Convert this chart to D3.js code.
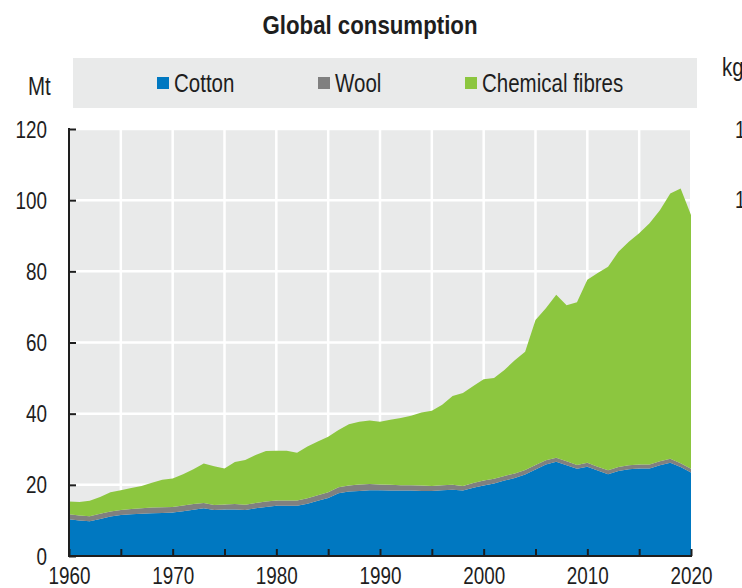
<!DOCTYPE html>
<html>
<head>
<meta charset="utf-8">
<script src="https://cdn.jsdelivr.net/npm/d3@7"></script>
<style>
  html, body { margin: 0; padding: 0; background: #ffffff; }
  svg { display: block; }
  text { font-family: "Liberation Sans", Arial, sans-serif; fill: #1e1e1e; }
</style>
</head>
<body>
<svg id="chart" width="742" height="588"></svg>
<script>
// ---------------- DATA ----------------
const years = [1960,1961,1962,1963,1964,1965,1966,1967,1968,1969,
               1970,1971,1972,1973,1974,1975,1976,1977,1978,1979,
               1980,1981,1982,1983,1984,1985,1986,1987,1988,1989,
               1990,1991,1992,1993,1994,1995,1996,1997,1998,1999,
               2000,2001,2002,2003,2004,2005,2006,2007,2008,2009,
               2010,2011,2012,2013,2014,2015,2016,2017,2018,2019,2020];

const cotton = [10.3,10.0,9.8,10.4,11.1,11.5,11.7,11.9,12.0,12.1,
                12.2,12.6,13.0,13.4,12.9,13.1,13.1,12.9,13.4,13.8,
                14.1,14.1,14.1,14.7,15.5,16.3,17.6,18.1,18.3,18.5,
                18.5,18.4,18.4,18.4,18.3,18.3,18.5,18.6,18.4,19.2,
                19.8,20.4,21.2,21.9,22.9,24.3,25.7,26.5,25.5,24.5,
                25.1,24.0,23.0,23.9,24.4,24.6,24.6,25.5,26.2,25.0,23.5];

const wool = [1.4,1.4,1.4,1.5,1.4,1.4,1.5,1.5,1.6,1.6,
              1.6,1.6,1.6,1.5,1.4,1.4,1.5,1.5,1.5,1.5,
              1.5,1.5,1.5,1.5,1.6,1.6,1.7,1.7,1.8,1.7,
              1.6,1.6,1.5,1.5,1.5,1.4,1.4,1.4,1.3,1.3,
              1.4,1.3,1.3,1.3,1.3,1.3,1.2,1.1,1.1,1.1,
              1.1,1.1,1.1,1.1,1.1,1.1,1.1,1.1,1.1,1.1,1.0];

const chemicalFibres = [3.6,3.8,4.3,4.7,5.4,5.6,5.9,6.3,7.0,7.7,
                        8.0,8.8,9.8,11.1,10.9,10.1,11.8,12.6,13.5,14.2,
                        14.0,14.0,13.4,14.6,15.1,15.6,16.1,17.2,17.6,17.9,
                        17.6,18.3,18.9,19.5,20.5,21.1,22.6,25.0,26.1,27.3,
                        28.5,28.3,29.8,31.8,33.2,40.7,42.7,45.8,43.9,45.7,
                        51.4,54.4,57.2,60.5,62.8,65.0,67.8,70.6,74.6,77.2,71.3];

const seriesNames = ["Cotton", "Wool", "Chemical fibres"];
const yTicks = [0, 20, 40, 60, 80, 100, 120];
const xMinorTicks = [1960,1965,1970,1975,1980,1985,1990,1995,2000,2005,2010,2015,2020];
const xTickLabels = [1960,1970,1980,1990,2000,2010,2020];
const titleText = "Global consumption";
const yUnit = "Mt";
const rightUnit = "kg";
const rightTickLabels = ["1", "1"];

// ---------------- LAYOUT ----------------
const svg = d3.select("#chart");
const colors = { "Cotton": "#0078c1", "Wool": "#808080", "Chemical fibres": "#8cc63f" };
const bg = "#e9eaea";
const NARROW = 0.82;

const plot = { left: 69, right: 691, top: 129, bottom: 556 };

const x = d3.scaleLinear().domain([1960, 2020]).range([plot.left, plot.right]);
const y = d3.scaleLinear().domain([0, 120]).range([plot.bottom, plot.top]);

const table = years.map((yr, i) => ({
  year: yr, "Cotton": cotton[i], "Wool": wool[i], "Chemical fibres": chemicalFibres[i]
}));

function ntext(g, str, tx, ty, size, anchor, sx, weight) {
  return g.append("text")
    .attr("transform", `translate(${tx},${ty}) scale(${sx},1)`)
    .attr("text-anchor", anchor)
    .attr("font-size", size)
    .attr("font-weight", weight || "normal")
    .text(str);
}

// Title
ntext(svg, titleText, 370, 34, 25, "middle", 0.89, "bold");

// Legend box
svg.append("rect").attr("x", 73).attr("y", 58).attr("width", 624).attr("height", 50).attr("fill", bg);
const legendPos = [{ sq: 157, tx: 174 }, { sq: 318, tx: 335 }, { sq: 465, tx: 482 }];
seriesNames.forEach((name, i) => {
  svg.append("rect").attr("x", legendPos[i].sq).attr("y", 77).attr("width", 12).attr("height", 12)
    .attr("fill", colors[name]);
  ntext(svg, name, legendPos[i].tx, 92, 25, "start", NARROW);
});

// Units
ntext(svg, yUnit, 28, 95, 25, "start", NARROW);
ntext(svg, rightUnit, 722, 76, 25, "start", NARROW);
ntext(svg, rightTickLabels[0], 735, 138, 23, "start", NARROW);
ntext(svg, rightTickLabels[1], 735, 208, 23, "start", NARROW);

// Plot background
svg.append("rect").attr("x", plot.left).attr("y", plot.top)
  .attr("width", plot.right - plot.left - 1).attr("height", plot.bottom - plot.top)
  .attr("fill", bg);

// Grid lines
const grid = svg.append("g");
grid.selectAll("line.h").data(yTicks.filter(d => d > 0)).join("line")
  .attr("x1", plot.left).attr("x2", plot.right - 1)
  .attr("y1", d => y(d)).attr("y2", d => y(d))
  .attr("stroke", "#ffffff").attr("stroke-width", 2.5);
grid.selectAll("line.v").data(xMinorTicks.filter(d => d > 1960 && d < 2020)).join("line")
  .attr("x1", d => x(d)).attr("x2", d => x(d))
  .attr("y1", plot.top).attr("y2", plot.bottom)
  .attr("stroke", "#ffffff").attr("stroke-width", 2.5);

// Stacked areas
const stack = d3.stack().keys(seriesNames);
const layers = stack(table);
const area = d3.area()
  .x(d => x(d.data.year))
  .y0(d => y(d[0]))
  .y1(d => y(d[1]))
  .curve(d3.curveLinear);
svg.append("g").selectAll("path").data(layers).join("path")
  .attr("d", area)
  .attr("fill", d => colors[d.key]);

// Y axis
const yAxis = d3.axisLeft(y).tickValues(yTicks).tickSizeInner(-7).tickSizeOuter(0).tickPadding(0);
const gy = svg.append("g").attr("transform", `translate(${plot.left},0)`).call(yAxis);
gy.select(".domain").attr("stroke", "#1e1e1e").attr("stroke-width", 2)
  .attr("d", `M0,${plot.top - 1}V${plot.bottom}`);
gy.selectAll(".tick line").attr("stroke", "#1e1e1e").attr("stroke-width", 2);
gy.selectAll(".tick text")
  .attr("x", null).attr("dy", null)
  .attr("transform", "translate(-22,8) scale(" + NARROW + ",1)")
  .attr("text-anchor", "end")
  .attr("font-size", 23)
  .attr("font-family", "Liberation Sans, Arial, sans-serif")
  .attr("fill", "#1e1e1e");

// X axis
const xAxis = d3.axisBottom(x).tickValues(xMinorTicks).tickSizeInner(-7).tickSizeOuter(0).tickPadding(0)
  .tickFormat(d => xTickLabels.includes(d) ? String(d) : "");
const gx = svg.append("g").attr("transform", `translate(0,${plot.bottom})`).call(xAxis);
gx.select(".domain").attr("stroke", "#1e1e1e").attr("stroke-width", 2)
  .attr("d", `M${plot.left - 1},0H${plot.right + 1}`);
gx.selectAll(".tick line").attr("stroke", "#1e1e1e").attr("stroke-width", 2);
gx.selectAll(".tick text")
  .attr("y", null).attr("dy", null)
  .attr("transform", "translate(0,28) scale(" + NARROW + ",1)")
  .attr("font-size", 23)
  .attr("font-family", "Liberation Sans, Arial, sans-serif")
  .attr("fill", "#1e1e1e");
</script>
</body>
</html>
